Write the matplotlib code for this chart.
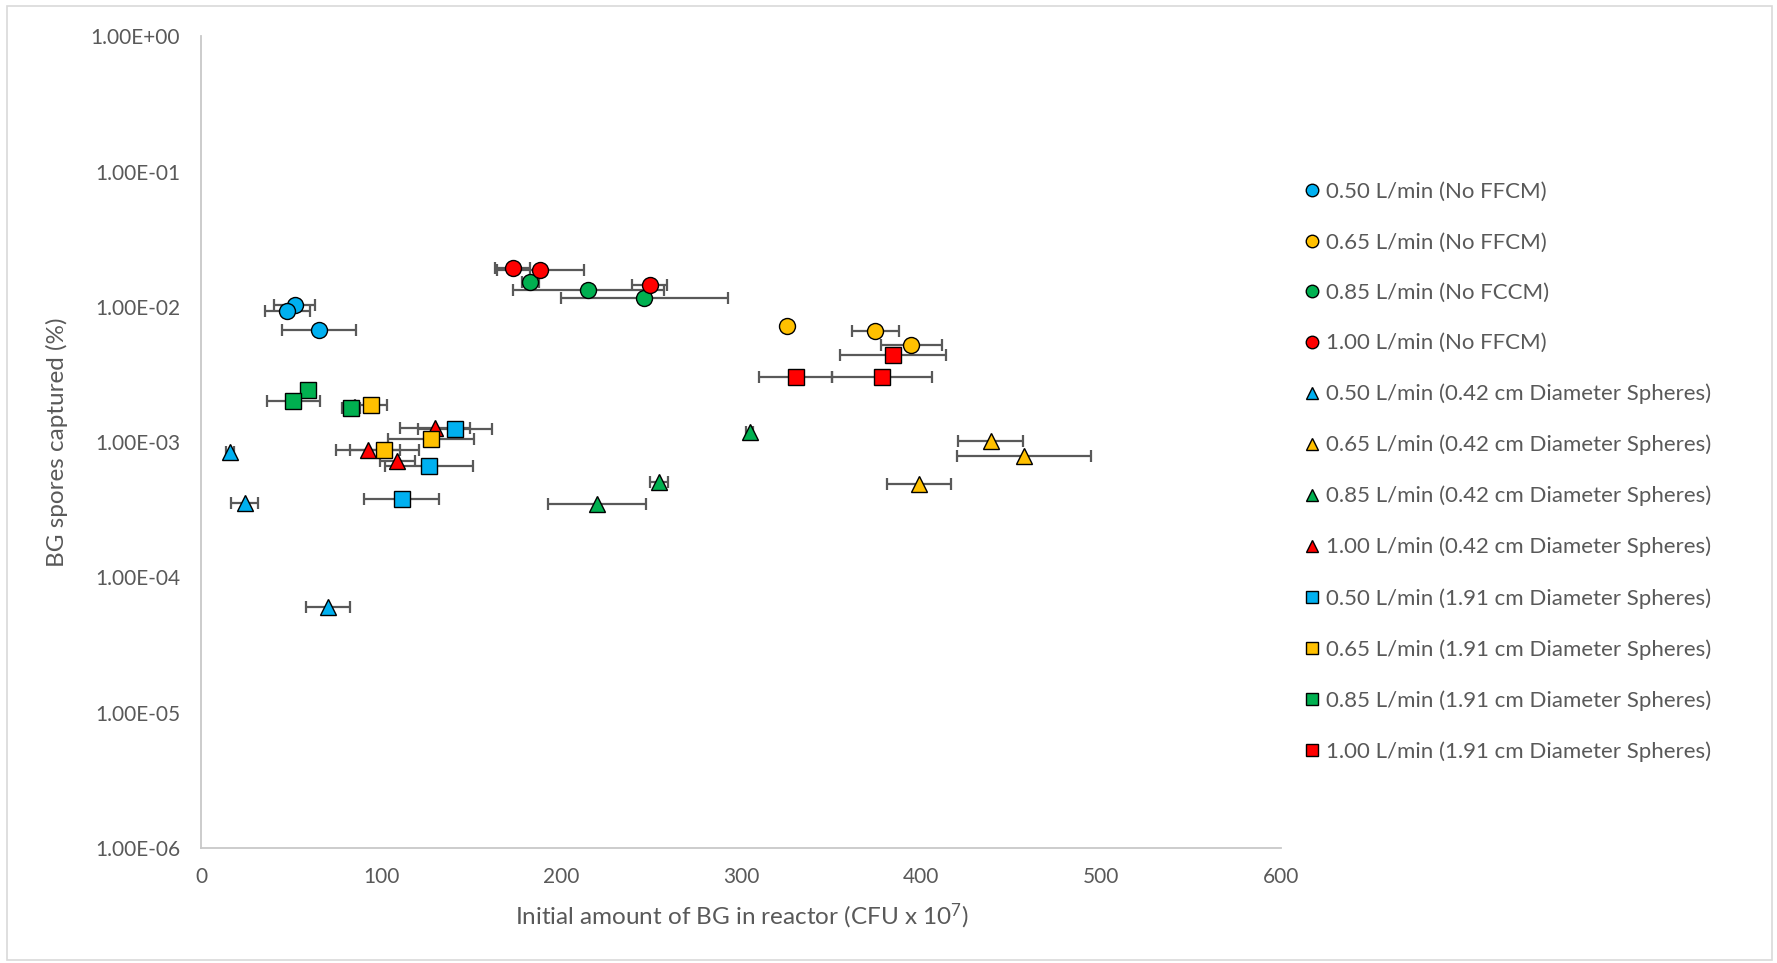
import matplotlib.pyplot as plt
from matplotlib.lines import Line2D
from matplotlib.patches import Rectangle
import matplotlib.ticker as mticker

plt.rcParams['font.family'] = ['Lato', 'DejaVu Sans']
plt.rcParams['mathtext.fontset'] = 'custom'
plt.rcParams['mathtext.rm'] = 'Lato'
plt.rcParams['mathtext.it'] = 'Lato:italic'

GRAY = '#595959'

# -----------------------------------------
# Data (x, y, +/- x error)
# -----------------------------------------
labels = [
    "0.50 L/min (No FFCM)",
    "0.65 L/min (No FFCM)",
    "0.85 L/min (No FCCM)",
    "1.00 L/min (No FFCM)",
    "0.50 L/min (0.42 cm Diameter Spheres)",
    "0.65 L/min (0.42 cm Diameter Spheres)",
    "0.85 L/min (0.42 cm Diameter Spheres)",
    "1.00 L/min (0.42 cm Diameter Spheres)",
    "0.50 L/min (1.91 cm Diameter Spheres)",
    "0.65 L/min (1.91 cm Diameter Spheres)",
    "0.85 L/min (1.91 cm Diameter Spheres)",
    "1.00 L/min (1.91 cm Diameter Spheres)",
]
colors = ['#00B0F0', '#FFC000', '#00B050', '#FF0000'] * 3
markers = ['o'] * 4 + ['^'] * 4 + ['s'] * 4

# No FFCM
x_050_none = [52.0, 47.9, 65.7]
y_050_none = [1.04e-2, 9.4e-3, 6.8e-3]
e_050_none = [11.3, 12.5, 20.5]

x_065_none = [325.6, 374.6, 394.6]
y_065_none = [7.2e-3, 6.6e-3, 5.2e-3]
e_065_none = [0, 13.2, 16.8]

x_085_none = [183.0, 215.2, 246.3]
y_085_none = [1.53e-2, 1.33e-2, 1.17e-2]
e_085_none = [4.6, 41.8, 46.3]

x_100_none = [173.1, 188.5, 249.4]
y_100_none = [1.94e-2, 1.87e-2, 1.46e-2]
e_100_none = [9.5, 24.0, 9.7]

# 0.42 cm spheres
x_050_small = [16.1, 24.3, 70.5]
y_050_small = [8.4e-4, 3.55e-4, 6.0e-5]
e_050_small = [2.0, 7.6, 12.2]

x_065_small = [438.7, 457.2, 398.7]
y_065_small = [1.02e-3, 7.9e-4, 4.9e-4]
e_065_small = [18.2, 37.0, 17.7]

x_085_small = [304.8, 254.4, 219.8]
y_085_small = [1.19e-3, 5.1e-4, 3.5e-4]
e_085_small = [2.0, 5.0, 27.2]

x_100_small = [130.0, 93.0, 109.1]
y_100_small = [1.28e-3, 8.8e-4, 7.2e-4]
e_100_small = [19.5, 17.8, 9.7]

# 1.91 cm spheres
x_050_large = [141.1, 126.7, 111.5]
y_050_large = [1.26e-3, 6.7e-4, 3.8e-4]
e_050_large = [20.4, 24.5, 20.8]

x_065_large = [94.6, 127.6, 101.9]
y_065_large = [1.88e-3, 1.06e-3, 8.8e-4]
e_065_large = [9.0, 23.8, 19.3]

x_085_large = [59.3, 51.3, 83.5]
y_085_large = [2.41e-3, 2.0e-3, 1.80e-3]
e_085_large = [3.0, 14.8, 5.0]

x_100_large = [384.3, 330.4, 378.5]
y_100_large = [4.4e-3, 3.02e-3, 3.05e-3]
e_100_large = [29.4, 20.4, 27.8]

xs = [x_050_none, x_065_none, x_085_none, x_100_none,
      x_050_small, x_065_small, x_085_small, x_100_small,
      x_050_large, x_065_large, x_085_large, x_100_large]
ys = [y_050_none, y_065_none, y_085_none, y_100_none,
      y_050_small, y_065_small, y_085_small, y_100_small,
      y_050_large, y_065_large, y_085_large, y_100_large]
es = [e_050_none, e_065_none, e_085_none, e_100_none,
      e_050_small, e_065_small, e_085_small, e_100_small,
      e_050_large, e_065_large, e_085_large, e_100_large]

# -----------------------------------------
# Plot
# -----------------------------------------
fig = plt.figure(figsize=(17.77, 9.63), dpi=100)
ax = fig.add_axes([0.1131, 0.1194, 0.6078, 0.8429])

# error bars first so every marker sits on top
for x, y, e in zip(xs, ys, es):
    ax.errorbar(x, y, xerr=e, fmt='none', ecolor=GRAY, elinewidth=1.6,
                capsize=4.5, capthick=1.6, zorder=2)

for x, y, c, m in zip(xs, ys, colors, markers):
    ax.plot(x, y, linestyle='none', marker=m, markersize=11.5,
            markerfacecolor=c, markeredgecolor='black', markeredgewidth=1.0,
            zorder=3)

ax.set_yscale('log')
ax.set_ylim(1e-6, 1)
ax.set_xlim(0, 600)
ax.set_xticks(range(0, 601, 100))
ax.yaxis.set_major_locator(mticker.LogLocator(base=10, numticks=10))
ax.yaxis.set_minor_locator(mticker.NullLocator())
ax.yaxis.set_major_formatter(mticker.FuncFormatter(lambda v, p: f"{v:.2E}"))

for s in ['top', 'right']:
    ax.spines[s].set_visible(False)
for s in ['left', 'bottom']:
    ax.spines[s].set_color('#C8C8C8')
    ax.spines[s].set_linewidth(1.3)
ax.tick_params(axis='both', length=0, labelsize=15, labelcolor=GRAY)
ax.tick_params(axis='y', pad=15)
ax.tick_params(axis='x', pad=14)

fig.text(57 / 1777, 1 - 442 / 963, "BG spores captured (%)", rotation=90,
         ha='center', va='center', fontsize=17.5, color=GRAY)
fig.text(742 / 1777, 1 - 916 / 963,
         "Initial amount of BG in reactor (CFU x 10$^{7}$)",
         ha='center', va='center', fontsize=17.5, color=GRAY)

handles = [Line2D([], [], linestyle='none', marker=m, markersize=9,
                  markerfacecolor=c, markeredgecolor='black',
                  markeredgewidth=1.0)
           for c, m in zip(colors, markers)]
fig.legend(handles, labels, loc='upper left',
           bbox_to_anchor=(1303 / 1777, 1 - 182 / 963),
           frameon=False, fontsize=16, labelcolor=GRAY,
           handlelength=0.8, handletextpad=0.25, labelspacing=1.37,
           borderpad=0, borderaxespad=0)

# light chart-area border
fig.patches.append(Rectangle((7 / 1777, 3 / 963), 1765 / 1777, 954 / 963,
                             transform=fig.transFigure, fill=False,
                             edgecolor='#D9D9D9', linewidth=1.2))

fig.savefig("out.png", dpi=100)
